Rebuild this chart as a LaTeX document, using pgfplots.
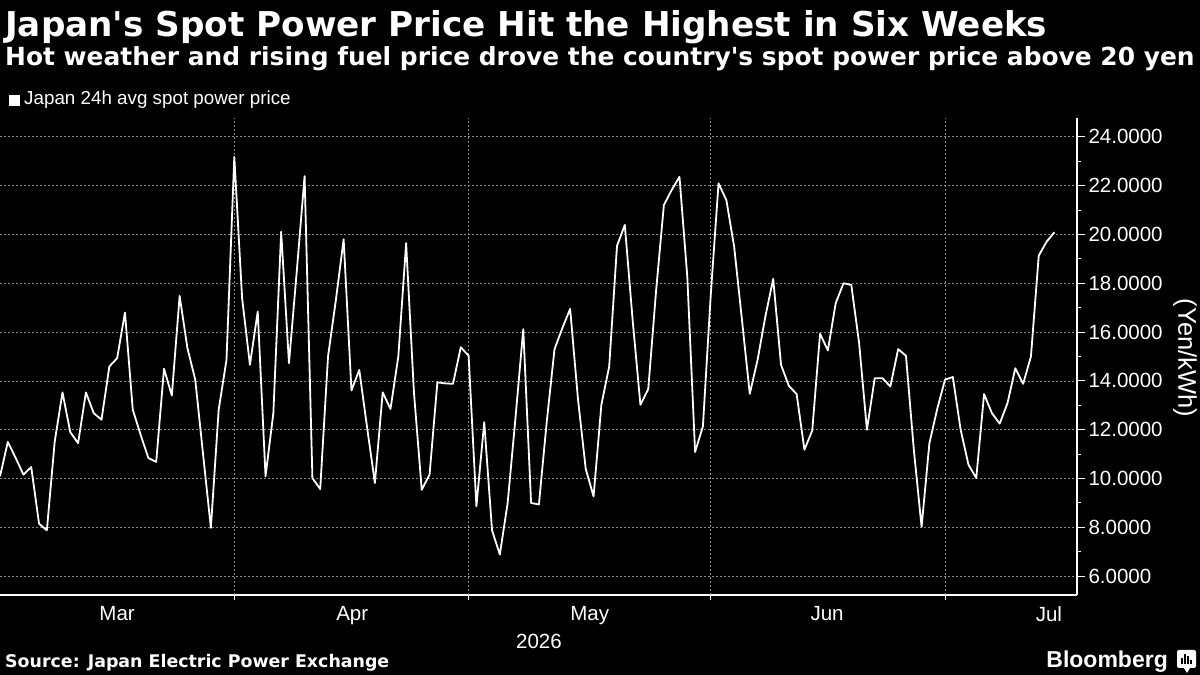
\documentclass[border=0pt]{standalone}
\usepackage{fontspec}
\setmainfont{Liberation Sans}
\newfontfamily\headfont{DejaVu Sans}
\usepackage{pgfplots}
\usepackage{pgfplotstable}
\pgfplotsset{compat=1.18}

\pgfplotstableread{
i v
0 10.09
1 11.5
2 10.85
3 10.16
4 10.47
5 8.15
6 7.88
7 11.5
8 13.53
9 11.9
10 11.45
11 13.53
12 12.68
13 12.41
14 14.59
15 14.93
16 16.8
17 12.82
18 11.8
19 10.84
20 10.68
21 14.5
22 13.4
23 17.48
24 15.34
25 14.05
26 11.0
27 7.98
28 12.82
29 14.86
30 23.18
31 17.39
32 14.66
33 16.84
34 10.09
35 12.68
36 20.11
37 14.73
38 18.5
39 22.39
40 10.02
41 9.57
42 15.0
43 17.3
44 19.8
45 13.61
46 14.45
47 12.1
48 9.82
49 13.53
50 12.85
51 15.0
52 19.64
53 13.53
54 9.54
55 10.16
56 13.94
57 13.9
58 13.88
59 15.38
60 15.03
61 8.86
62 12.31
63 7.88
64 6.89
65 9.0
66 12.48
67 16.12
68 9.0
69 8.94
70 12.31
71 15.3
72 16.16
73 16.95
74 13.27
75 10.39
76 9.27
77 13.02
78 14.59
79 19.53
80 20.39
81 16.5
82 13.02
83 13.66
84 17.67
85 21.2
86 21.82
87 22.36
88 18.27
89 11.09
90 12.14
91 17.5
92 22.09
93 21.41
94 19.5
95 16.5
96 13.47
97 14.86
98 16.64
99 18.18
100 14.66
101 13.8
102 13.46
103 11.18
104 11.97
105 15.93
106 15.25
107 17.18
108 18.0
109 17.93
110 15.55
111 12.0
112 14.11
113 14.11
114 13.77
115 15.3
116 15.03
117 11.2
118 8.02
119 11.45
120 12.85
121 14.05
122 14.16
123 12.0
124 10.57
125 10.02
126 13.46
127 12.68
128 12.25
129 13.09
130 14.52
131 13.88
132 15.0
133 19.13
134 19.7
135 20.09
}\spotdata

\begin{document}
\begin{tikzpicture}[x=1pt,y=1pt]
\fill[black] (0,0) rectangle (1200,675);
\begin{axis}[
  at={(0pt,80pt)}, anchor=south west,
  width=1077pt, height=477pt, scale only axis,
  xmin=0, xmax=137.9, ymin=5.23, ymax=24.77,
  axis x line*=bottom, axis y line*=right,
  axis line style={white, line width=1.3pt},
  tick align=outside,
  tick style={white, line width=1pt},
  major tick length=8pt, minor tick length=4pt,
  xtick={15,45.1,75.5,105.9,134.3},
  xticklabels={Mar,Apr,May,Jun,Jul},
  xtick style={draw=none},
  extra x ticks={30,60,91,121},
  extra x tick labels={},
  extra x tick style={major tick length=5pt, grid=major, xtick style={draw=white, line width=1pt}},
  ytick={6,8,...,24}, minor ytick={7,9,...,23},
  yticklabel={\pgfmathprintnumber[fixed,fixed zerofill,precision=4,assume math mode=true]{\tick}},
  ticklabel style={font=\fontsize{20.5}{24}\selectfont, text=white},
  /pgf/number format/assume math mode=true,
  xmajorgrids=false, ymajorgrids=true,
  grid style={dash pattern=on 2pt off 2pt, color=white!55!black, line width=0.7pt},
  clip=true,
]
\addplot[white, line width=1.8pt, line join=round] table[x=i, y=v] {\spotdata};
\end{axis}
% texts
\node[anchor=base west, text=white, inner sep=0] at (5,638) {\headfont\bfseries\fontsize{34.2}{40}\selectfont Japan's Spot Power Price Hit the Highest in Six Weeks};
\node[anchor=base west, text=white, inner sep=0] at (5,609) {\headfont\bfseries\fontsize{24.9}{30}\selectfont Hot weather and rising fuel price drove the country's spot power price above 20 yen};
\fill[white] (9,569) rectangle (20,580);
\node[anchor=west, text=white, inner sep=0] at (24,575) {\fontsize{18.8}{22}\selectfont Japan 24h avg spot power price};
\node[rotate=-90, text=white, inner sep=0] at (1185,317) {\fontsize{25.5}{30}\selectfont (Yen/kWh)};
\node[text=white, inner sep=0] at (539,34) {\fontsize{20.5}{24}\selectfont 2026};
\node[anchor=base west, text=white, inner sep=0] at (5,7) {\headfont\bfseries\fontsize{17.4}{21}\selectfont Source: Japan Electric Power Exchange};
\node[anchor=base east, text=white, inner sep=0] at (1168,8) {\bfseries\fontsize{23}{27}\selectfont Bloomberg};
\fill[white, rounded corners=2pt] (1177,7) rectangle (1196,25);
\fill[white] (1184,7) -- (1187,2) -- (1190,7) -- cycle;
\fill[black] (1181,11) rectangle (1182.5,17);
\fill[black] (1184,11) rectangle (1185.5,21);
\fill[black] (1187,11) rectangle (1188.5,19);
\fill[black] (1190,11) rectangle (1191.5,15);
\pgfresetboundingbox
\path[use as bounding box] (0,0) rectangle (1200,675);
\end{tikzpicture}
\end{document}
